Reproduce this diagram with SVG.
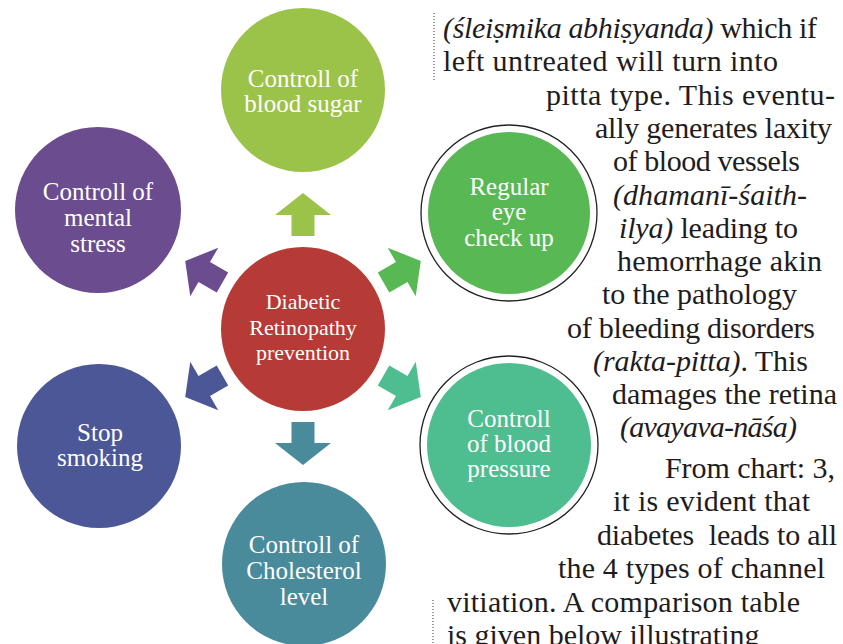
<svg xmlns="http://www.w3.org/2000/svg" width="843" height="644" viewBox="0 0 843 644">
<style>
text{font-family:'Liberation Serif','DejaVu Serif',serif}
.nt{font-size:25px;fill:#ffffff;text-anchor:middle}
.ct{font-size:22px;fill:#ffffff;text-anchor:middle}
.bt{font-size:30px;fill:#1e1c1d}
.it{font-style:italic}
.ring{fill:#ffffff;stroke:#222222;stroke-width:1.3}
.dot{stroke:#555555;stroke-width:1.2;stroke-dasharray:1 2;fill:none}
</style>
<defs>
<path id="arr" d="M -11.5,-93 V -114 H -28 L 0,-136 L 28,-114 H 11.5 V -93 Z"/>
</defs>
<rect width="843" height="644" fill="#ffffff"/>
<g id="connectors">
<use href="#arr" transform="translate(303,329) rotate(0)" fill="#9cc349"/>
<use href="#arr" transform="translate(303,329) rotate(60)" fill="#58b853"/>
<use href="#arr" transform="translate(303,329) rotate(120)" fill="#4ebd8f"/>
<use href="#arr" transform="translate(303,329) rotate(180)" fill="#498a9b"/>
<use href="#arr" transform="translate(303,329) rotate(240)" fill="#4b5797"/>
<use href="#arr" transform="translate(303,329) rotate(300)" fill="#6a4c8f"/>
</g>
<g id="center">
<circle cx="303" cy="329" r="82" fill="#b63a36"/>
<text class="ct" x="303" y="309">Diabetic</text>
<text class="ct" x="303" y="335">Retinopathy</text>
<text class="ct" x="303" y="360">prevention</text>
</g>
<g id="node-blood-sugar">
<circle cx="303" cy="90" r="82" fill="#9cc349"/>
<text class="nt" x="303" y="87">Controll of</text>
<text class="nt" x="303" y="112">blood sugar</text>
</g>
<g id="node-eye">
<circle class="ring" cx="509" cy="213" r="88"/>
<circle cx="509" cy="213" r="81" fill="#58b853"/>
<text class="nt" x="509" y="195">Regular</text>
<text class="nt" x="509" y="220">eye</text>
<text class="nt" x="509" y="246">check up</text>
</g>
<g id="node-blood-pressure">
<circle class="ring" cx="509" cy="445" r="89"/>
<circle cx="509" cy="445" r="82" fill="#4ebd8f"/>
<text class="nt" x="509" y="427">Controll</text>
<text class="nt" x="509" y="452">of blood</text>
<text class="nt" x="509" y="477">pressure</text>
</g>
<g id="node-cholesterol">
<circle cx="304" cy="564" r="82" fill="#498a9b"/>
<text class="nt" x="304" y="553">Controll of</text>
<text class="nt" x="304" y="579">Cholesterol</text>
<text class="nt" x="304" y="605">level</text>
</g>
<g id="node-smoking">
<circle cx="99" cy="446" r="82" fill="#4b5797"/>
<text class="nt" x="100" y="441">Stop</text>
<text class="nt" x="100" y="466">smoking</text>
</g>
<g id="node-stress">
<circle cx="98" cy="210" r="83" fill="#6a4c8f"/>
<text class="nt" x="98" y="200">Controll of</text>
<text class="nt" x="98" y="226">mental</text>
<text class="nt" x="98" y="252">stress</text>
</g>
<g id="body-text">
<line class="dot" x1="434" y1="13" x2="434" y2="82"/>
<line class="dot" x1="433" y1="600" x2="433" y2="644"/>
<text class="bt" x="443" y="38" textLength="374"><tspan class="it">(śleiṣmika abhiṣyanda)</tspan> which if</text>
<text class="bt" x="443" y="71" textLength="335">left untreated will turn into</text>
<text class="bt" x="546" y="105" textLength="289">pitta type. This eventu-</text>
<text class="bt" x="595" y="138" textLength="237">ally generates laxity</text>
<text class="bt" x="613" y="171" textLength="187">of blood vessels</text>
<text class="bt it" x="613" y="205" textLength="194">(dhamanī-śaith-</text>
<text class="bt" x="619" y="238" textLength="179"><tspan class="it">ilya)</tspan> leading to</text>
<text class="bt" x="617" y="271" textLength="205">hemorrhage akin</text>
<text class="bt" x="602" y="304" textLength="195">to the pathology</text>
<text class="bt" x="567" y="338" textLength="248">of bleeding disorders</text>
<text class="bt" x="593" y="371" textLength="215"><tspan class="it">(rakta-pitta)</tspan>. This</text>
<text class="bt" x="612" y="404" textLength="225">damages the retina</text>
<text class="bt it" x="620" y="437" textLength="177">(avayava-nāśa)</text>
<text class="bt" x="665" y="478" textLength="170">From chart: 3,</text>
<text class="bt" x="613" y="511" textLength="197">it is evident that</text>
<text class="bt" x="597" y="545" textLength="240" xml:space="preserve">diabetes  leads to all</text>
<text class="bt" x="558" y="578" textLength="267">the 4 types of channel</text>
<text class="bt" x="447" y="612" textLength="353">vitiation. A comparison table</text>
<text class="bt" x="447" y="645">is given below illustrating</text>
</g>
</svg>
